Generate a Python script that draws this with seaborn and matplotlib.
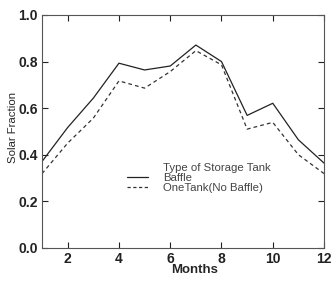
import matplotlib
matplotlib.use("Agg")
import matplotlib.pyplot as plt
import seaborn as sns
import pandas as pd
from matplotlib.lines import Line2D

months = [1, 2, 3, 4, 5, 6, 7, 8, 9, 10, 11, 12]
baffle = [0.371, 0.517, 0.643, 0.793, 0.764, 0.781, 0.871, 0.800, 0.569, 0.621, 0.464, 0.364]
onetank = [0.319, 0.450, 0.557, 0.717, 0.686, 0.757, 0.847, 0.786, 0.510, 0.539, 0.400, 0.319]
series_names = ["Baffle", "OneTank(No Baffle)"]

df = pd.DataFrame({
    "Months": months * 2,
    "Solar Fraction": baffle + onetank,
    "Tank": [series_names[0]] * len(months) + [series_names[1]] * len(months),
})

sns.set_style("ticks")
plt.rcParams["font.family"] = ["Liberation Sans", "DejaVu Sans"]

fig = plt.figure(figsize=(3.31, 2.83), dpi=100)
ax = fig.add_axes([0.127, 0.124, 0.852, 0.823])

sns.lineplot(data=df, x="Months", y="Solar Fraction", hue="Tank", style="Tank",
             palette=["#222222", "#333333"], dashes=[(None, None), (3, 2.5)],
             linewidth=0.9, ax=ax, legend=False)

ax.set_xlim(1, 12)
ax.set_ylim(0, 1.0)
ax.set_xticks([2, 4, 6, 8, 10, 12])
ax.set_yticks([0.0, 0.2, 0.4, 0.6, 0.8, 1.0])
ax.set_yticklabels(["0.0", "0.2", "0.4", "0.6", "0.8", "1.0"])
ax.tick_params(direction="in", length=4, width=0.8, top=True, right=True,
               labelsize=10, colors="#222222", pad=3)
for lab in ax.get_xticklabels() + ax.get_yticklabels():
    lab.set_fontweight("bold")
for sp in ax.spines.values():
    sp.set_linewidth(0.8)
    sp.set_color("#555555")

ax.set_xlabel("Months", fontsize=9.5, fontweight="bold")
ax.set_ylabel("Solar Fraction", fontsize=8.2)
ax.xaxis.set_label_coords(0.541, -0.068)
ax.yaxis.set_label_coords(-0.087, 0.515)

handles = [
    Line2D([], [], color="none"),
    Line2D([], [], color="#222222", lw=0.9),
    Line2D([], [], color="#333333", lw=0.9, dashes=(2.6, 2.0)),
]
labels = ["Type of Storage Tank", series_names[0], series_names[1]]
leg = ax.legend(handles, labels, loc="upper left", bbox_to_anchor=(0.301, 0.364),
                frameon=False, fontsize=8.2, handlelength=1.85, handletextpad=1.3,
                labelspacing=0.0, borderpad=0, borderaxespad=0)
for t in leg.get_texts():
    t.set_color("#444444")

fig.savefig("out.png", dpi=100)
